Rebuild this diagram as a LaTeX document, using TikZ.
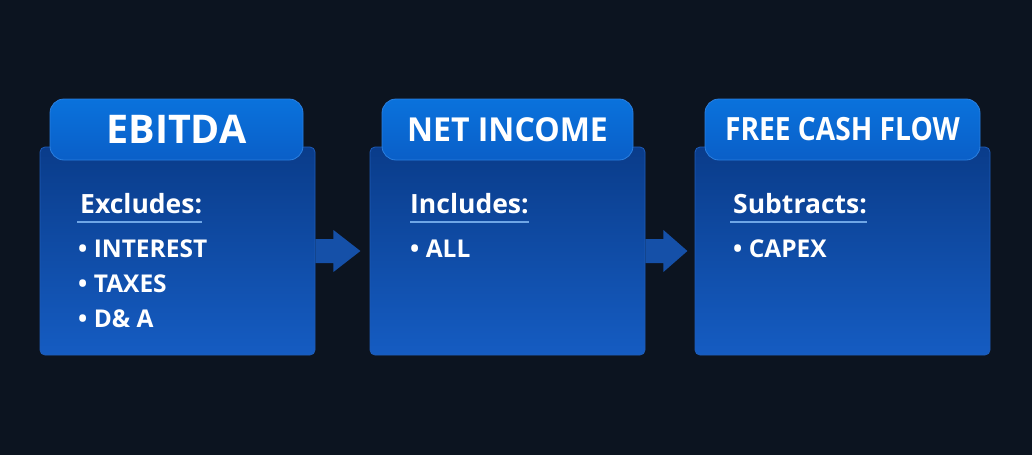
\documentclass[tikz,border=0pt]{standalone}
\usepackage{fontspec}
\setmainfont{Open Sans}
\usetikzlibrary{calc}
\definecolor{bg}{HTML}{0C1420}
\definecolor{bodytop}{HTML}{0A3C8A}
\definecolor{bodybot}{HTML}{155CC2}
\definecolor{bodyedge}{HTML}{1E5CB8}
\definecolor{headtop}{HTML}{0A72DC}
\definecolor{headbot}{HTML}{0A5FC8}
\definecolor{headedge}{HTML}{2A7FE0}
\definecolor{arrowcol}{HTML}{1550A8}
\definecolor{uline}{HTML}{6FA6E6}
\tikzset{
  bodybox/.style={rectangle, rounded corners=5pt, top color=bodytop, bottom color=bodybot, draw=bodyedge, line width=0.8pt, minimum height=208pt, inner sep=0pt},
  headbox/.style={rectangle, rounded corners=14pt, top color=headtop, bottom color=headbot, draw=headedge, line width=0.8pt, minimum height=61pt, inner sep=0pt, text=white, font=\bfseries},
  subhead/.style={anchor=base west, inner sep=0pt, text=white, font=\bfseries\fontsize{26.5}{28}\selectfont},
  item/.style={anchor=base west, inner sep=0pt, text=white, font=\bfseries\fontsize{24.5}{26}\selectfont},
  ul/.style={draw=uline, line width=1.4pt},
  blockarrow/.style={fill=arrowcol, draw=none}
}
\begin{document}
\begin{tikzpicture}[x=1pt,y=-1pt]
\fill[bg] (0,0) rectangle (1032,455);
\useasboundingbox (0,0) rectangle (1032,455);
% bodies
\node[bodybox, minimum width=275pt] (b1) at (177.5,251) {};
\node[bodybox, minimum width=275pt] (b2) at (507.5,251) {};
\node[bodybox, minimum width=295pt] (b3) at (842.5,251) {};
% headers
\node[headbox, minimum width=253pt, font=\bfseries\fontsize{39.5}{41}\selectfont] (h1) at (176.5,129.5) {EBITDA};
\node[headbox, minimum width=251pt, font=\bfseries\fontsize{33}{35}\selectfont] (h2) at (507.5,129.5) {\scalebox{0.97}[1]{NET INCOME}};
\node[headbox, minimum width=275pt, font=\bfseries\fontsize{32}{34}\selectfont] (h3) at (842.5,129.5) {\scalebox{0.88}[1]{FREE CASH FLOW}};
% arrows
\fill[blockarrow] ($(b1.east)+(0,-12)$) -- ++(18,0) -- ++(0,-9) -- ++(27,21) -- ++(-27,21) -- ++(0,-9) -- ++(-18,0) -- cycle;
\fill[blockarrow] ($(b2.east)+(0,-12)$) -- ++(18,0) -- ++(0,-9) -- ++(24,21) -- ++(-24,21) -- ++(0,-9) -- ++(-18,0) -- cycle;
% box 1 text
\node[subhead] (s1) at (80,213) {Excludes:};
\draw[ul] ($(s1.base west)+(-3,9)$) -- ($(s1.base east)+(0,9)$);
\node[item] (i11) at (78,257) {• INTEREST};
\node[item] (i12) at (78,292) {• TAXES};
\node[item] (i13) at (78,327) {• D\& A};
% box 2 text
\node[subhead] (s2) at (410,213) {Includes:};
\draw[ul] ($(s2.base west)+(0,9)$) -- ($(s2.base east)+(0,9)$);
\node[item] (i21) at (410,257) {• ALL};
% box 3 text
\node[subhead] (s3) at (733,213) {Subtracts:};
\draw[ul] ($(s3.base west)+(-3,9)$) -- ($(s3.base east)+(0,9)$);
\node[item] (i31) at (733,257) {• CAPEX};
\end{tikzpicture}
\end{document}
